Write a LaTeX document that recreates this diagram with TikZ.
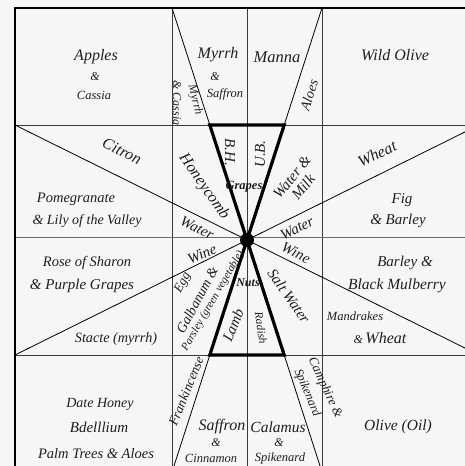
\documentclass[tikz,border=0pt]{standalone}
\usepackage{fontspec}
\setmainfont{Liberation Serif}
\newcommand{\fs}[1]{\fontsize{#1}{#1}\selectfont}
\definecolor{txt}{HTML}{1E1E1E}
\definecolor{gridc}{HTML}{3A3A3A}
\definecolor{midc}{HTML}{6A6A6A}
\definecolor{bgc}{HTML}{F6F6F6}
\begin{document}
\begin{tikzpicture}[x=1pt,y=-1pt,
  lbl/.style={inner sep=0pt, font=\itshape, text=txt},
  blbl/.style={inner sep=0pt, font=\itshape\bfseries, text=txt},
  gridline/.style={draw=gridc, line width=0.9pt},
  midline/.style={draw=midc, line width=1.8pt},
  diag/.style={draw=black, line width=0.8pt},
  thickedge/.style={draw=black, line width=3.2pt, line join=miter},
  frame/.style={draw=black, line width=1.8pt}]
\useasboundingbox (0,0) rectangle (465,466);
\clip (0,0) rectangle (465,466);
\fill[bgc] (0,0) rectangle (465,466);
% coordinates
\coordinate (TL) at (15,8);   \coordinate (TR) at (479,8);
\coordinate (BL) at (15,472); \coordinate (BR) at (479,472);
\coordinate (C) at (247,240);
\coordinate (v1t) at (172,8);  \coordinate (v1b) at (172,472);
\coordinate (v2t) at (247,8);  \coordinate (v2b) at (247,472);
\coordinate (v3t) at (322,8);  \coordinate (v3b) at (322,472);
\coordinate (h1l) at (15,125);   \coordinate (h1r) at (479,125);
\coordinate (h2l) at (15,237.5); \coordinate (h2r) at (479,237.5);
\coordinate (h3l) at (15,355);   \coordinate (h3r) at (479,355);
\coordinate (a1) at (209.8,125); \coordinate (a2) at (284.2,125);
\coordinate (b1) at (209.8,355); \coordinate (b2) at (284.2,355);
% grid
\draw[gridline] (v1t) -- (v1b);
\draw[gridline] (v2t) -- (v2b);
\draw[gridline] (v3t) -- (v3b);
\draw[gridline] (h1l) -- (h1r);
\draw[gridline] (h3l) -- (h3r);
\draw[midline] (h2l) -- (h2r);
% diagonals
\draw[diag] (h1l) -- (h3r);
\draw[diag] (h3l) -- (h1r);
\draw[diag] (v1t) -- (v3b);
\draw[diag] (v3t) -- (v1b);
% thick triangles
\draw[thickedge] (a1) -- (a2) -- (C) -- cycle;
\draw[thickedge] (b1) -- (b2) -- (C) -- cycle;
% frame
\draw[frame] (TL) rectangle (BR);
\fill[black] (C) circle (7);
% row 1
\node[lbl] (apples) at (96,57) {\fs{16}Apples};
\node[lbl] (amp1) at (95,77) {\fs{12}\&};
\node[lbl] (cassia) at (94,95) {\fs{12.5}Cassia};
\node[lbl] (myrrh) at (218,55) {\fs{16}Myrrh};
\node[lbl] (amp2) at (215,77) {\fs{12}\&};
\node[lbl] (saffron1) at (225,94) {\fs{12.5}Saffron};
\node[lbl,rotate=-76] (myrrhr) at (195,100) {\fs{12}Myrrh};
\node[lbl,rotate=-90] (cassiar) at (177,103) {\fs{12}\& Cassia};
\node[lbl] (manna) at (277,57) {\fs{16.5}Manna};
\node[lbl,rotate=72] (aloes) at (309,95) {\fs{14}Aloes};
\node[lbl] (wildolive) at (395,55) {\fs{16}Wild Olive};
% row 2
\node[lbl,rotate=-26] (citron) at (122,151) {\fs{16}Citron};
\node[lbl] (pome) at (76,199) {\fs{14.5}Pomegranate};
\node[lbl] (lily) at (87,221) {\fs{14}\& Lily of the Valley};
\node[lbl,rotate=-55] (honey) at (204,187) {\fs{16}Honeycomb};
\node[lbl,rotate=-90] (bh) at (230,152) {\fs{15}B.H.};
\node[lbl,rotate=90] (ub) at (260,154) {\fs{15}U.B.};
\node[blbl] (grapes) at (244,187) {\fs{12.5}Grapes};
\node[lbl,rotate=51] (wateramp) at (292,177) {\fs{15}Water \&};
\node[lbl,rotate=51] (milk) at (303,187) {\fs{15}Milk};
\node[lbl,rotate=-26] (waterl) at (197,228) {\fs{15}Water};
\node[lbl,rotate=26] (waterr) at (297,228) {\fs{15}Water};
\node[lbl,rotate=26] (wheat1) at (377,154) {\fs{16}Wheat};
\node[lbl] (fig) at (402,200) {\fs{15}Fig};
\node[lbl] (barley1) at (398,221) {\fs{15}\& Barley};
% row 3
\node[lbl] (rose) at (87,263) {\fs{14.5}Rose of Sharon};
\node[lbl] (purple) at (82,286) {\fs{15}\& Purple Grapes};
\node[lbl] (stacte) at (116,339) {\fs{14.2}Stacte (myrrh)};
\node[lbl,rotate=24] (winel) at (202,254) {\fs{15}Wine};
\node[lbl,rotate=-26] (winer) at (296,253) {\fs{15}Wine};
\node[lbl,rotate=62] (egg) at (183,283) {\fs{13}Egg};
\node[lbl,rotate=62] (galb) at (197,300) {\fs{14}Galbanum \&};
\node[lbl,rotate=60] (parsley) at (213,301) {\fs{11}Parsley (green vegetable)};
\node[blbl] (nuts) at (248,283) {\fs{12}Nuts};
\node[lbl,rotate=-55] (salt) at (289,296) {\fs{15}Salt Water};
\node[lbl,rotate=68] (lamb) at (233,325) {\fs{15}Lamb};
\node[lbl,rotate=-82] (radish) at (261,328) {\fs{11.5}Radish};
\node[lbl] (barley2) at (405,263) {\fs{15}Barley \&};
\node[lbl] (mulberry) at (397,286) {\fs{15.5}Black Mulberry};
\node[lbl] (mandrakes) at (355,316) {\fs{12.5}Mandrakes};
\node[lbl] (wheat2) at (380,338) {{\fs{12}\&} {\fs{16}Wheat}};
% row 4
\node[lbl,rotate=68] (frank) at (186,391) {\fs{13.5}Frankincense};
\node[lbl] (saffron2) at (222,427) {\fs{16}Saffron};
\node[lbl] (amp3) at (216,443) {\fs{12}\&};
\node[lbl] (cinnamon) at (211,458) {\fs{12.5}Cinnamon};
\node[lbl] (calamus) at (278,427) {\fs{15.5}Calamus};
\node[lbl] (amp4) at (279,443) {\fs{12}\&};
\node[lbl] (spike1) at (280,458) {\fs{12.5}Spikenard};
\node[lbl,rotate=-65] (camphire) at (325,388) {\fs{13}Camphire \&};
\node[lbl,rotate=-67] (spike2) at (307,393) {\fs{12.5}Spikenard};
\node[lbl] (date) at (100,404) {\fs{14}Date Honey};
\node[lbl] (bdell) at (99,427) {\fs{15}Bdelllium};
\node[lbl] (palm) at (96,454) {\fs{14.5}Palm Trees \& Aloes};
\node[lbl] (olive) at (398,427) {\fs{15.5}Olive (Oil)};
\end{tikzpicture}
\end{document}
